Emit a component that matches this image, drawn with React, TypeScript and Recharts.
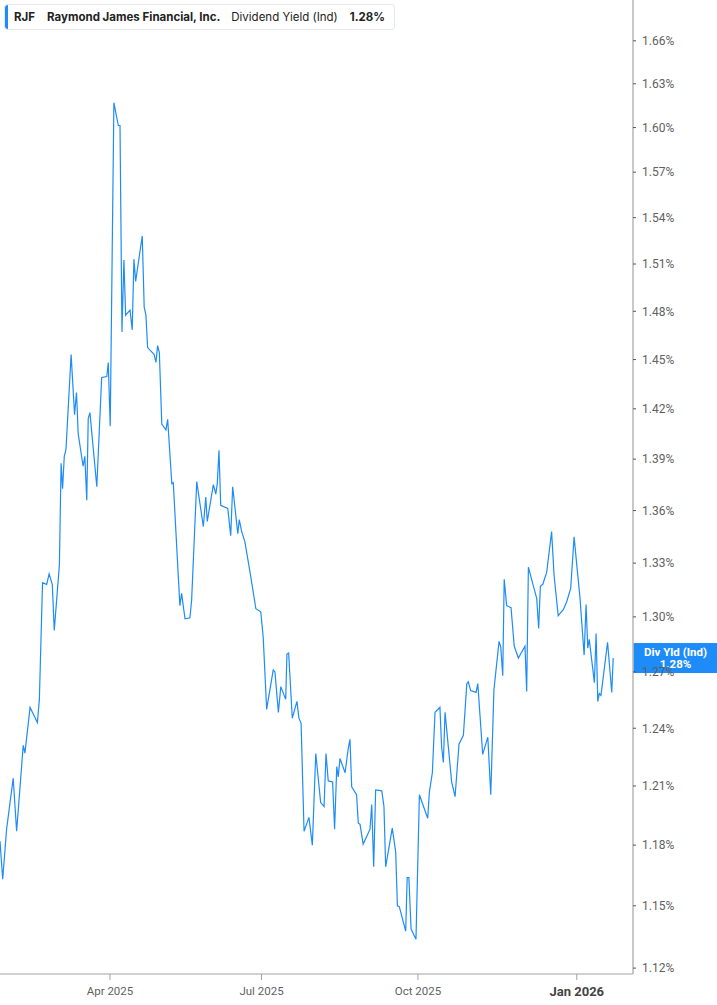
import React from "react";
import { LineChart, Line, XAxis, YAxis, ReferenceLine } from "recharts";

// trading-day index (0 = late Jan 2025) and dividend yield in %
const days = [
  0, 1.1, 2.7, 5.4, 6.8, 9.5, 10.2, 12.3, 15.3, 16.1,
  17.4, 19.1, 20.1, 21.4, 22.2, 24.3, 25.0, 25.6, 26.3, 27.0,
  29.1, 30.5, 31.3, 32.0, 34.0, 34.7, 35.5, 36.1, 36.8, 39.6,
  41.6, 43.7, 44.3, 45.1, 46.6, 48.4, 49.1, 49.9, 50.7, 51.4,
  53.2, 54.1, 54.8, 55.5, 58.2, 59.0, 59.7, 60.4, 63.1, 63.8,
  64.5, 65.2, 66.2, 67.9, 68.6, 70.3, 70.9, 73.6, 74.3, 75.7,
  77.7, 78.4, 80.5, 83.2, 84.2, 84.8, 87.3, 88.3, 88.9, 89.6,
  90.3, 93.2, 94.4, 95.2, 97.3, 97.9, 98.9, 100.2, 102.3, 104.7,
  106.7, 107.7, 109.1, 111.8, 112.5, 113.9, 114.9, 116.9, 117.4, 118.1,
  119.6, 121.5, 122.3, 123.2, 124.4, 126.4, 127.8, 129.2, 131.2, 132.6,
  133.4, 134.3, 136.1, 136.9, 137.8, 138.4, 139.1, 141.2, 142.5, 143.2,
  143.9, 145.9, 146.6, 147.3, 148.6, 151.4, 152.1, 152.9, 153.7, 156.2,
  157.1, 157.8, 160.5, 161.9, 162.6, 163.4, 166.0, 166.6, 167.3, 168.2,
  170.2, 171.6, 173.0, 175.0, 175.7, 176.9, 178.0, 180.0, 180.7, 181.4,
  182.1, 184.8, 186.2, 187.8, 189.6, 191.0, 191.6, 192.6, 194.8, 195.5,
  197.5, 199.6, 200.8, 202.1, 204.2, 204.9, 205.7, 206.3, 207.3, 209.1,
  210.4, 212.1, 214.8, 215.5, 216.2, 218.5, 219.6, 220.4, 221.1, 222.1,
  223.7, 225.7, 226.7, 228.4, 229.4, 230.5, 231.9, 233.5, 234.9, 236.0,
  237.3, 239.0, 239.8, 240.5, 241.1, 243.2, 243.9, 244.6, 245.2, 245.9,
  248.6, 250.3, 250.9,
];

const yields = [
  1.182, 1.163, 1.188, 1.214, 1.187, 1.231, 1.227, 1.251, 1.243, 1.255,
  1.319, 1.318, 1.324, 1.318, 1.2925, 1.329, 1.3876, 1.3726, 1.3917, 1.3958,
  1.4531, 1.4165, 1.4298, 1.405, 1.3858, 1.3917, 1.366, 1.4142, 1.4177, 1.3738,
  1.439, 1.4396, 1.4482, 1.4096, 1.617, 1.6014, 1.6014, 1.4671, 1.5125, 1.4776,
  1.4807, 1.4684, 1.5131, 1.4989, 1.5281, 1.4826, 1.4776, 1.4574, 1.4531, 1.4482,
  1.4586, 1.4543, 1.4108, 1.4073, 1.4137, 1.3756, 1.3762, 1.3062, 1.313, 1.2989,
  1.2995, 1.3091, 1.3768, 1.3508, 1.3678, 1.3537, 1.375, 1.3696, 1.3756, 1.3952,
  1.363, 1.3612, 1.3456, 1.3738, 1.3467, 1.3548, 1.3479, 1.3421, 1.3249, 1.3045,
  1.3028, 1.2887, 1.25, 1.2711, 1.27, 1.2484, 1.2621, 1.2553, 1.2796, 1.2802,
  1.2453, 1.2542, 1.2453, 1.2426, 1.187, 1.194, 1.18, 1.2268, 1.2015, 1.1995,
  1.2268, 1.2126, 1.2121, 1.188, 1.22, 1.2147, 1.2242, 1.2168, 1.2295, 1.2342,
  1.2095, 1.2055, 1.191, 1.1905, 1.1805, 1.188, 1.2005, 1.1692, 1.208, 1.2075,
  1.1995, 1.1692, 1.1885, 1.1766, 1.15, 1.1495, 1.1377, 1.1638, 1.1638, 1.1387,
  1.1338, 1.2055, 1.2005, 1.1935, 1.207, 1.2168, 1.2484, 1.2511, 1.23, 1.2221,
  1.2484, 1.2121, 1.2045, 1.2316, 1.2363, 1.2637, 1.2647, 1.26, 1.259, 1.2637,
  1.2263, 1.2353, 1.2055, 1.2605, 1.2866, 1.2834, 1.2679, 1.3209, 1.3062, 1.3051,
  1.2839, 1.2775, 1.2839, 1.2595, 1.3277, 1.3158, 1.3102, 1.2936, 1.317, 1.3181,
  1.3249, 1.3479, 1.3232, 1.3006, 1.3023, 1.304, 1.3085, 1.3158, 1.345, 1.3289,
  1.3108, 1.2791, 1.3068, 1.2829, 1.2877, 1.2642, 1.2909, 1.2542, 1.2584, 1.2574,
  1.2861, 1.259, 1.2775,
];

const yTicks = [
  1.12, 1.15, 1.18, 1.21, 1.24, 1.27, 1.3, 1.33, 1.36, 1.39,
  1.42, 1.45, 1.48, 1.51, 1.54, 1.57, 1.6, 1.63, 1.66,
];
const xTickDays = [45, 107, 171, 236];
const xTickLabels = ["Apr 2025", "Jul 2025", "Oct 2025", "Jan 2026"];

const ticker = "RJF";
const company = "Raymond James Financial, Inc.";
const metric = "Dividend Yield (Ind)";
const shortMetric = "Div Yld (Ind)";

const BLUE = "#1e8cf8";

const data = days.map((d, i) => ({ day: d, yield: yields[i] }));
const lastYield = yields[yields.length - 1];

const XTick = (props: any) => {
  const { x, y, payload } = props;
  const label = xTickLabels[xTickDays.indexOf(payload.value)] ?? "";
  const isYear = label.startsWith("Jan");
  return (
    <text
      x={x}
      y={y}
      dy={isYear ? 14 : 12.5}
      textAnchor="middle"
      fill={isYear ? "#444" : "#5f5f5f"}
      fontSize={isYear ? 13 : 11.5}
      fontWeight={isYear ? 700 : 400}
      fontFamily="Roboto"
    >
      {label}
    </text>
  );
};

const PriceTag = (props: any) => {
  const vb = props.viewBox;
  if (!vb) return null;
  const x = vb.x + vb.width + 0.5;
  const cy = vb.y;
  return (
    <g>
      <rect x={x} y={cy - 15} width={85} height={30} fill={BLUE} />
      <text x={x + 42} y={cy - 2.5} textAnchor="middle" fill="#fff" fontSize={11.5} fontWeight={700} fontFamily="Roboto">
        {shortMetric}
      </text>
      <text x={x + 42} y={cy + 10} textAnchor="middle" fill="#fff" fontSize={11.5} fontWeight={700} fontFamily="Roboto">
        {lastYield.toFixed(2)}%
      </text>
    </g>
  );
};

export default function App() {
  return (
    <div style={{ position: "absolute", left: 0, top: 0, width: 717, height: 1005, background: "#fff" }}>
      <LineChart width={717} height={1005} data={data} margin={{ top: 0, right: 0, bottom: 0, left: 0 }}>
        <XAxis
          dataKey="day"
          type="number"
          domain={[0, 259]}
          ticks={xTickDays}
          tick={<XTick />}
          height={31}
          axisLine={{ stroke: "#a3a3a3", strokeWidth: 1.2 }}
          tickLine={{ stroke: "#a3a3a3" }}
          tickSize={6}
          tickMargin={2}
          allowDataOverflow
        />
        <YAxis
          orientation="right"
          scale="log"
          domain={[1.1172, 1.689]}
          ticks={yTicks}
          allowDataOverflow
          width={84}
          axisLine={{ stroke: "#a3a3a3", strokeWidth: 1.2 }}
          tickLine={{ stroke: "#555" }}
          tickSize={3}
          tickMargin={6}
          tick={{ fill: "#5f5f5f", fontSize: 12, fontFamily: "Roboto" }}
          tickFormatter={(v: number) => `${v.toFixed(2)}%`}
        />
        <Line
          type="linear"
          dataKey="yield"
          stroke={BLUE}
          strokeWidth={1.2}
          dot={false}
          activeDot={false}
          isAnimationActive={false}
        />
        <ReferenceLine y={lastYield} stroke="none" ifOverflow="visible" label={<PriceTag />} />
      </LineChart>
      <div
        style={{
          position: "absolute",
          left: 4,
          top: 4,
          width: 391,
          height: 26,
          background: "#fff",
          border: "1px solid #e8e8e8",
          borderRadius: 3,
          boxSizing: "border-box",
          display: "flex",
          alignItems: "center",
          fontFamily: "Inter",
          fontSize: 11.5,
          color: "#222",
          whiteSpace: "nowrap",
        }}
      >
        <div style={{ width: 3, alignSelf: "stretch", background: BLUE, borderRadius: "3px 0 0 3px" }} />
        <span style={{ marginLeft: 6, fontWeight: 700 }}>{ticker}</span>
        <span style={{ marginLeft: 12, fontWeight: 700 }}>{company}</span>
        <span style={{ marginLeft: 11 }}>{metric}</span>
        <span style={{ marginLeft: 12, fontWeight: 700 }}>{lastYield.toFixed(2)}%</span>
      </div>
    </div>
  );
}
